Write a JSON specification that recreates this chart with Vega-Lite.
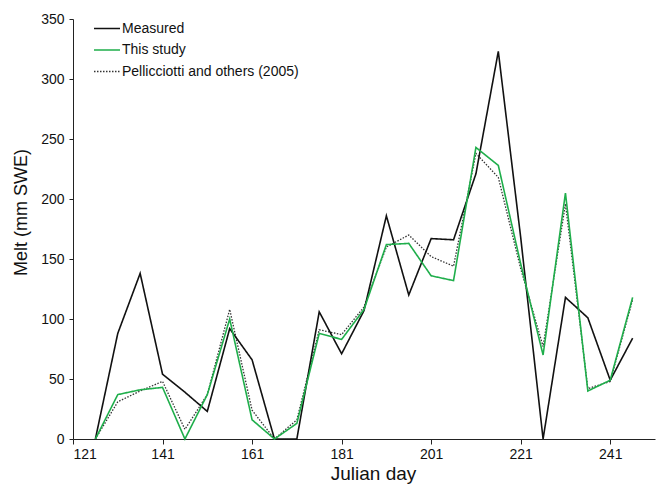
{
  "$schema": "https://vega.github.io/schema/vega-lite/v6.json",
  "autosize": {"type": "none"},
  "width": 582,
  "height": 420,
  "padding": {"left": 73, "top": 19, "right": 3, "bottom": 45},
  "background": "white",
  "config": {
    "view": {"stroke": null},
    "font": "Liberation Sans",
    "axis": {
      "grid": false,
      "domainColor": "#222222",
      "tickColor": "#222222",
      "labelColor": "#111111",
      "titleColor": "#111111",
      "labelFont": "Liberation Sans",
      "titleFont": "Liberation Sans",
      "titleFontWeight": "normal",
      "labelFontSize": 14,
      "tickSize": 4,
      "labelPadding": 5
    },
    "legend": {
      "labelLimit": 0
    }
  },
  "data": {
    "values": [
      {"day": 126, "series": "Measured", "melt": 0},
      {"day": 131, "series": "Measured", "melt": 88},
      {"day": 136, "series": "Measured", "melt": 138},
      {"day": 141, "series": "Measured", "melt": 54},
      {"day": 146, "series": "Measured", "melt": 39},
      {"day": 151, "series": "Measured", "melt": 23},
      {"day": 156, "series": "Measured", "melt": 92},
      {"day": 161, "series": "Measured", "melt": 66},
      {"day": 166, "series": "Measured", "melt": 0},
      {"day": 171, "series": "Measured", "melt": 0},
      {"day": 176, "series": "Measured", "melt": 106},
      {"day": 181, "series": "Measured", "melt": 71},
      {"day": 186, "series": "Measured", "melt": 107},
      {"day": 191, "series": "Measured", "melt": 186},
      {"day": 196, "series": "Measured", "melt": 120},
      {"day": 201, "series": "Measured", "melt": 167},
      {"day": 206, "series": "Measured", "melt": 166},
      {"day": 211, "series": "Measured", "melt": 221},
      {"day": 216, "series": "Measured", "melt": 323},
      {"day": 221, "series": "Measured", "melt": 168},
      {"day": 226, "series": "Measured", "melt": 0},
      {"day": 231, "series": "Measured", "melt": 118},
      {"day": 236, "series": "Measured", "melt": 101},
      {"day": 241, "series": "Measured", "melt": 49},
      {"day": 246, "series": "Measured", "melt": 84},

      {"day": 126, "series": "This study", "melt": 0},
      {"day": 131, "series": "This study", "melt": 37},
      {"day": 136, "series": "This study", "melt": 41},
      {"day": 141, "series": "This study", "melt": 43},
      {"day": 146, "series": "This study", "melt": 0},
      {"day": 151, "series": "This study", "melt": 37},
      {"day": 156, "series": "This study", "melt": 100},
      {"day": 161, "series": "This study", "melt": 16},
      {"day": 166, "series": "This study", "melt": 0},
      {"day": 171, "series": "This study", "melt": 13},
      {"day": 176, "series": "This study", "melt": 88},
      {"day": 181, "series": "This study", "melt": 83},
      {"day": 186, "series": "This study", "melt": 108},
      {"day": 191, "series": "This study", "melt": 162},
      {"day": 196, "series": "This study", "melt": 163},
      {"day": 201, "series": "This study", "melt": 136},
      {"day": 206, "series": "This study", "melt": 132},
      {"day": 211, "series": "This study", "melt": 243},
      {"day": 216, "series": "This study", "melt": 228},
      {"day": 221, "series": "This study", "melt": 146},
      {"day": 226, "series": "This study", "melt": 70},
      {"day": 231, "series": "This study", "melt": 205},
      {"day": 236, "series": "This study", "melt": 40},
      {"day": 241, "series": "This study", "melt": 49},
      {"day": 246, "series": "This study", "melt": 118},

      {"day": 126, "series": "Pellicciotti and others (2005)", "melt": 0},
      {"day": 131, "series": "Pellicciotti and others (2005)", "melt": 31},
      {"day": 136, "series": "Pellicciotti and others (2005)", "melt": 40},
      {"day": 141, "series": "Pellicciotti and others (2005)", "melt": 48},
      {"day": 146, "series": "Pellicciotti and others (2005)", "melt": 8},
      {"day": 151, "series": "Pellicciotti and others (2005)", "melt": 37},
      {"day": 156, "series": "Pellicciotti and others (2005)", "melt": 108},
      {"day": 161, "series": "Pellicciotti and others (2005)", "melt": 24},
      {"day": 166, "series": "Pellicciotti and others (2005)", "melt": 0},
      {"day": 171, "series": "Pellicciotti and others (2005)", "melt": 16},
      {"day": 176, "series": "Pellicciotti and others (2005)", "melt": 91},
      {"day": 181, "series": "Pellicciotti and others (2005)", "melt": 87},
      {"day": 186, "series": "Pellicciotti and others (2005)", "melt": 110},
      {"day": 191, "series": "Pellicciotti and others (2005)", "melt": 160},
      {"day": 196, "series": "Pellicciotti and others (2005)", "melt": 170},
      {"day": 201, "series": "Pellicciotti and others (2005)", "melt": 152},
      {"day": 206, "series": "Pellicciotti and others (2005)", "melt": 144},
      {"day": 211, "series": "Pellicciotti and others (2005)", "melt": 238},
      {"day": 216, "series": "Pellicciotti and others (2005)", "melt": 218},
      {"day": 221, "series": "Pellicciotti and others (2005)", "melt": 142},
      {"day": 226, "series": "Pellicciotti and others (2005)", "melt": 77},
      {"day": 231, "series": "Pellicciotti and others (2005)", "melt": 196},
      {"day": 236, "series": "Pellicciotti and others (2005)", "melt": 42},
      {"day": 241, "series": "Pellicciotti and others (2005)", "melt": 48},
      {"day": 246, "series": "Pellicciotti and others (2005)", "melt": 116}
    ]
  },
  "encoding": {
    "x": {
      "field": "day",
      "type": "quantitative",
      "scale": {"domain": [121, 251], "nice": false, "zero": false},
      "axis": {
        "title": "Julian day",
        "titleFontSize": 19,
        "titleX": 300,
        "titleY": 40,
        "titleBaseline": "alphabetic",
        "values": [121, 141, 161, 181, 201, 221, 241],
        "labelPadding": 3,
        "tickSize": 5
      }
    },
    "y": {
      "field": "melt",
      "type": "quantitative",
      "scale": {"domain": [0, 350], "nice": false},
      "axis": {
        "title": "Melt (mm SWE)",
        "titleFontSize": 18,
        "titleX": -52,
        "titleY": 193,
        "titleAngle": -90,
        "titleAlign": "center",
        "titleBaseline": "middle",
        "values": [0, 50, 100, 150, 200, 250, 300, 350]
      }
    },
    "color": {
      "field": "series",
      "type": "nominal",
      "scale": {
        "domain": ["Measured", "This study", "Pellicciotti and others (2005)"],
        "range": ["#111111", "#1fae4b", "#333333"]
      },
      "legend": {
        "title": null,
        "orient": "none",
        "legendX": 20,
        "legendY": 1,
        "padding": 0,
        "symbolType": "stroke",
        "symbolSize": 676,
        "symbolStrokeWidth": 1.5,
        "labelFontSize": 14,
        "labelFont": "Liberation Sans",
        "labelColor": "#111111",
        "labelLimit": 0,
        "labelOffset": 1,
        "clipHeight": 17,
        "rowPadding": 4.5
      }
    },
    "strokeDash": {
      "field": "series",
      "type": "nominal",
      "scale": {
        "domain": ["Measured", "This study", "Pellicciotti and others (2005)"],
        "range": [[1, 0], [1, 0], [1.5, 1.5]]
      },
      "legend": {
        "title": null,
        "orient": "none",
        "legendX": 20,
        "legendY": 1,
        "padding": 0,
        "symbolType": "stroke",
        "symbolSize": 676,
        "symbolStrokeWidth": 1.5,
        "labelFontSize": 14,
        "labelFont": "Liberation Sans",
        "labelColor": "#111111",
        "labelLimit": 0,
        "labelOffset": 1,
        "clipHeight": 17,
        "rowPadding": 4.5
      }
    }
  },
  "layer": [
    {
      "transform": [{"filter": "datum.series === 'Pellicciotti and others (2005)'"}],
      "mark": {"type": "line", "strokeWidth": 1.3}
    },
    {
      "transform": [{"filter": "datum.series === 'Measured'"}],
      "mark": {"type": "line", "strokeWidth": 1.6}
    },
    {
      "transform": [{"filter": "datum.series === 'This study'"}],
      "mark": {"type": "line", "strokeWidth": 1.6}
    }
  ]
}
